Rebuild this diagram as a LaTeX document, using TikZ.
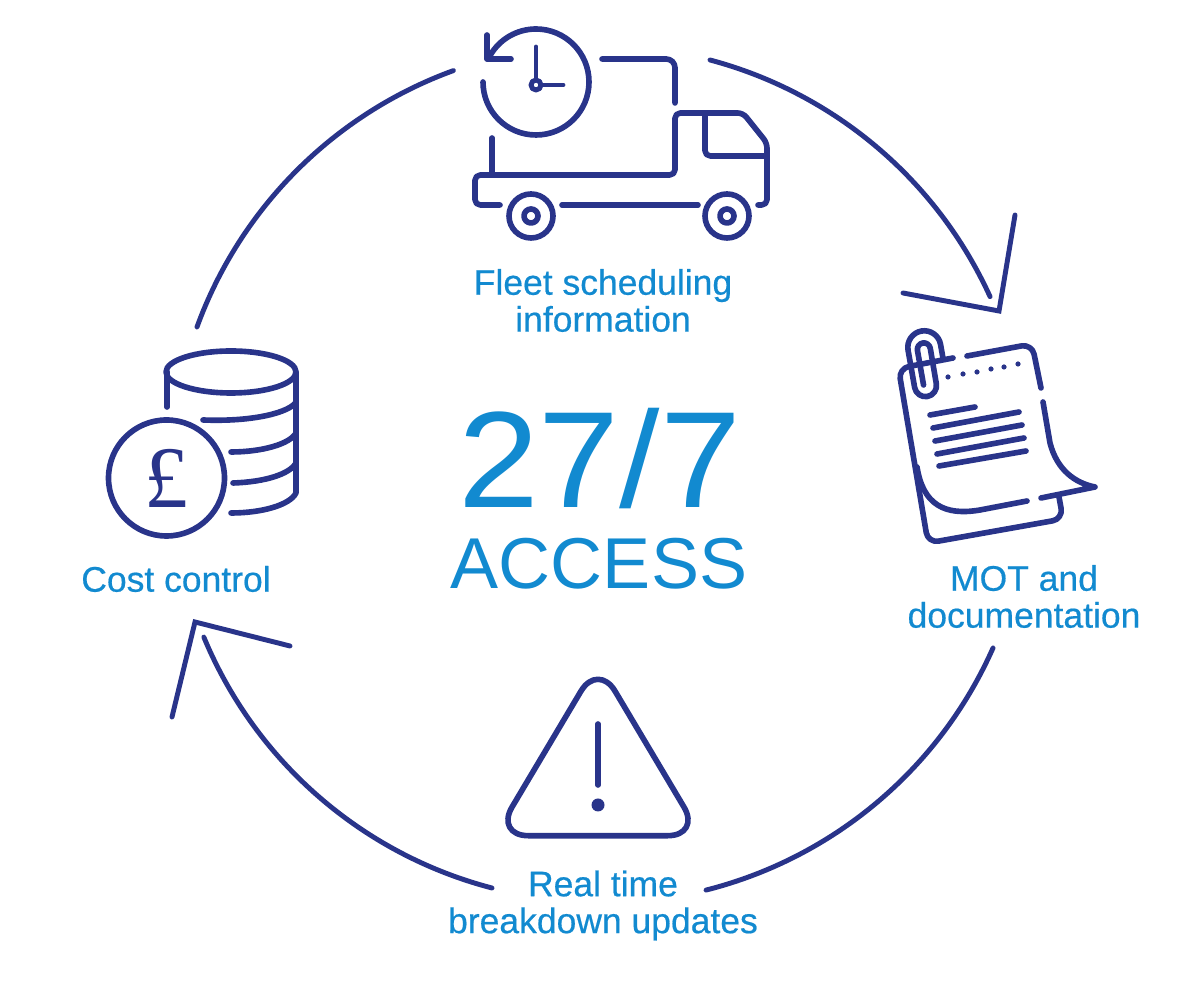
\documentclass[tikz,border=0pt]{standalone}
\usepackage{fontspec}
\usepackage{tikz}
\usetikzlibrary{positioning}
\newfontfamily\labelfont[FakeBold=0.5]{Liberation Sans}
\newfontfamily\bigfont{Liberation Sans}
\newfontfamily\poundfont{Liberation Serif}
\definecolor{navy}{HTML}{29348A}
\definecolor{skyblue}{HTML}{128AD0}
\tikzset{
  ring/.style={draw=navy,line width=2.8pt,line cap=round},
  icon/.style={draw=navy,line width=3.2pt,line cap=round,line join=round},
  thin icon/.style={draw=navy,line width=2.8pt,line cap=round,line join=round},
  caption/.style={text=skyblue,align=center,font=\labelfont\fontsize{20.2}{21}\selectfont},
}
\begin{document}
\begin{tikzpicture}[x=0.02cm,y=0.02cm]
\useasboundingbox (0,0) rectangle (1200,1000);

% ring ends
\coordinate (top_r) at (710,940);
\coordinate (low_r) at (993,352);
\coordinate (bot_l) at (492,112);
\coordinate (mid_l) at (197,673);

\draw[ring] (top_r) arc[start angle=75.1,end angle=24.5,radius=429];
\draw[ring] (low_r) arc[start angle=-23.9,end angle=-75.8,radius=429];
\draw[ring] (bot_l) arc[start angle=-104.6,end angle=-157.5,radius=429];
\draw[ring] (mid_l) arc[start angle=160,end angle=110,radius=429];

% arrow heads
\coordinate (head_a1) at (903,707);
\coordinate (head_a2) at (999,689);
\coordinate (head_a3) at (1015,785);
\coordinate (head_b1) at (290,354);
\coordinate (head_b2) at (195,378);
\coordinate (head_b3) at (172,283);
\draw[ring,line join=miter] (head_a1) -- (head_a2) -- (head_a3);
\draw[ring,line join=miter] (head_b1) -- (head_b2) -- (head_b3);

% clock
\draw[icon] (483,918) arc[start angle=180,end angle=510,radius=53];
\draw[icon] (487,965) -- (487,941) -- (511,941);
\draw[thin icon] (536,953) -- (536,920);
\draw[thin icon] (541,915) -- (563,915);
\draw[thin icon] (536,915) circle (5);

% truck
\draw[icon,rounded corners=5] (602,941) -- (675,941) -- (675,897);
\draw[icon] (492,862) -- (492,825);
\draw[icon,rounded corners=3] (500,795) -- (475,795) -- (475,825) -- (675,825) -- (675,887) -- (743,887) -- (767,857) -- (767,795) -- (758,795);
\draw[icon,rounded corners=3] (705,887) -- (705,844) -- (767,844);
\draw[icon] (562,795) -- (698,795);
\foreach \wx in {531,727} {
  \draw[icon] (\wx,784) circle (22);
  \draw[icon] (\wx,784) circle (7);
}

% document
\draw[icon,rounded corners=6] (953,642) -- (898.5,631.5) -- (928,457) -- (1063,481) -- (1059,503);
\draw[icon,rounded corners=6] (967,644) -- (1032,656) -- (1041,612);
\draw[icon] (1043,598) -- (1050,557) .. controls (1057,530) and (1075,517) .. (1095,513) -- (1041,502);
\draw[icon] (1027,499) -- (980,490) .. controls (945,484) and (923,495) .. (917,533);
\foreach \dx/\dy in {948/623,963/626,977/628,991/631,1004/633,1018/636}
  \fill[navy] (\dx,\dy) circle (2.6);
\foreach \ax/\ay/\bx/\by in {930/585/975/593,933/572/1019/588,935/559/1022/575,937/546/1024/562,939/534/1026/549}
  \draw[icon] (\ax,\ay) -- (\bx,\by);
\begin{scope}[shift={(924.3,652.7)},rotate=10]
\draw[icon] (16.5,-14) -- (16.5,0) arc[start angle=0,end angle=180,radius=16.5] -- (-16.5,-38) arc[start angle=180,end angle=360,radius=11] -- (5.7,-2) arc[start angle=0,end angle=180,radius=6.5] -- (-7.3,-37);
\end{scope}

% coins
\draw[icon] (231,628) ellipse (65 and 21);
\draw[icon] (167,628) -- (167,593);
\draw[icon] (296,628) -- (296,507) .. controls (290,495) and (262,487) .. (231,487);
\draw[icon] (296,598) .. controls (290,588) and (255,578) .. (203,580);
\draw[icon] (296,567) .. controls (290,556) and (262,548) .. (231,548);
\draw[icon] (296,537) .. controls (290,526) and (265,518) .. (233,517);
\node[circle,icon,minimum size=116*0.02cm,inner sep=0pt,text=navy,font=\poundfont\fontsize{50}{50}\selectfont] (coin) at (166.5,522) {£};

% warning sign
\draw[icon,rounded corners=19] (598,337.5) -- (495,164.3) -- (701,164.3) -- cycle;
\draw[icon] (598,276) -- (598,215);
\fill[navy] (598,195) circle (6.5);

% labels
\node[caption] (fleet) at (603,699.5) {Fleet scheduling\\information};
\node[caption] (mot) at (1024,403.5) {MOT and\\documentation};
\node[caption] (cost) at (176,421) {Cost control};
\node[caption] (real) at (603,94.5) {Real time\\breakdown updates};
\node[text=skyblue,anchor=base,inner sep=0pt,font=\bigfont\fontsize{78}{78}\selectfont] (hours) at (599.5,492) {\scalebox{1.06}[1]{27/7}};
\node[text=skyblue,anchor=base,inner sep=0pt,font=\bigfont\fontsize{41}{41}\selectfont] (access) at (599,411) {ACCESS};
\end{tikzpicture}
\end{document}
